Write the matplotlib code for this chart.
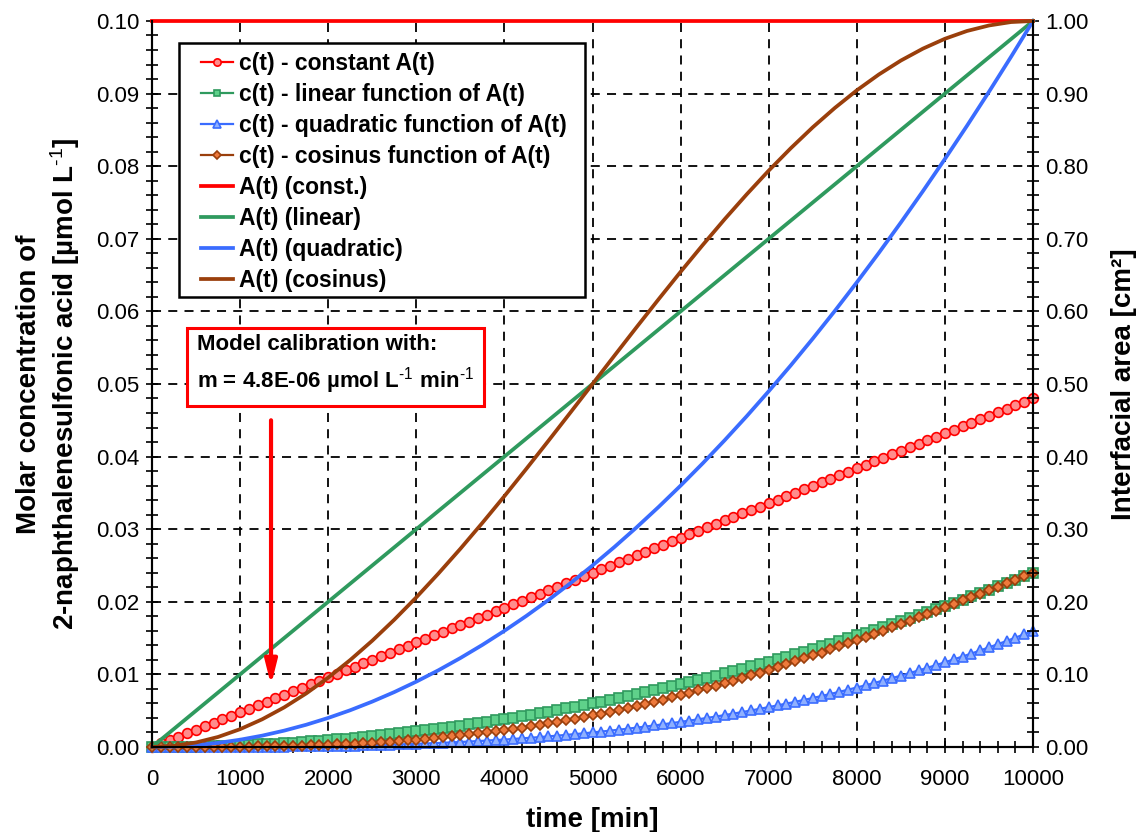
import matplotlib.pyplot as plt
from matplotlib.patches import Rectangle
from matplotlib.ticker import FormatStrFormatter, MultipleLocator

# time grid of the simulated concentrations (min)
time_c = [
    0, 100, 200, 300, 400, 500, 600, 700, 800, 900,
    1000, 1100, 1200, 1300, 1400, 1500, 1600, 1700, 1800, 1900,
    2000, 2100, 2200, 2300, 2400, 2500, 2600, 2700, 2800, 2900,
    3000, 3100, 3200, 3300, 3400, 3500, 3600, 3700, 3800, 3900,
    4000, 4100, 4200, 4300, 4400, 4500, 4600, 4700, 4800, 4900,
    5000, 5100, 5200, 5300, 5400, 5500, 5600, 5700, 5800, 5900,
    6000, 6100, 6200, 6300, 6400, 6500, 6600, 6700, 6800, 6900,
    7000, 7100, 7200, 7300, 7400, 7500, 7600, 7700, 7800, 7900,
    8000, 8100, 8200, 8300, 8400, 8500, 8600, 8700, 8800, 8900,
    9000, 9100, 9200, 9300, 9400, 9500, 9600, 9700, 9800, 9900,
    10000,
]

# c(t) in umol/L for the four interfacial-area models
c_const = [
    0.0, 0.00048, 0.00096, 0.00144, 0.00192, 0.0024, 0.00288, 0.00336, 0.00384, 0.00432,
    0.0048, 0.00528, 0.00576, 0.00624, 0.00672, 0.0072, 0.00768, 0.00816, 0.00864, 0.00912,
    0.0096, 0.01008, 0.01056, 0.01104, 0.01152, 0.012, 0.01248, 0.01296, 0.01344, 0.01392,
    0.0144, 0.01488, 0.01536, 0.01584, 0.01632, 0.0168, 0.01728, 0.01776, 0.01824, 0.01872,
    0.0192, 0.01968, 0.02016, 0.02064, 0.02112, 0.0216, 0.02208, 0.02256, 0.02304, 0.02352,
    0.024, 0.02448, 0.02496, 0.02544, 0.02592, 0.0264, 0.02688, 0.02736, 0.02784, 0.02832,
    0.0288, 0.02928, 0.02976, 0.03024, 0.03072, 0.0312, 0.03168, 0.03216, 0.03264, 0.03312,
    0.0336, 0.03408, 0.03456, 0.03504, 0.03552, 0.036, 0.03648, 0.03696, 0.03744, 0.03792,
    0.0384, 0.03888, 0.03936, 0.03984, 0.04032, 0.0408, 0.04128, 0.04176, 0.04224, 0.04272,
    0.0432, 0.04368, 0.04416, 0.04464, 0.04512, 0.0456, 0.04608, 0.04656, 0.04704, 0.04752,
    0.048,
]
c_linear = [
    0.0, 0.0, 0.00001, 0.00002, 0.00004, 0.00006, 0.00009, 0.00012, 0.00015, 0.00019,
    0.00024, 0.00029, 0.00035, 0.00041, 0.00047, 0.00054, 0.00061, 0.00069, 0.00078, 0.00087,
    0.00096, 0.00106, 0.00116, 0.00127, 0.00138, 0.0015, 0.00162, 0.00175, 0.00188, 0.00202,
    0.00216, 0.00231, 0.00246, 0.00261, 0.00277, 0.00294, 0.00311, 0.00329, 0.00347, 0.00365,
    0.00384, 0.00403, 0.00423, 0.00444, 0.00465, 0.00486, 0.00508, 0.0053, 0.00553, 0.00576,
    0.006, 0.00624, 0.00649, 0.00674, 0.007, 0.00726, 0.00753, 0.0078, 0.00807, 0.00835,
    0.00864, 0.00893, 0.00923, 0.00953, 0.00983, 0.01014, 0.01045, 0.01077, 0.0111, 0.01143,
    0.01176, 0.0121, 0.01244, 0.01279, 0.01314, 0.0135, 0.01386, 0.01423, 0.0146, 0.01498,
    0.01536, 0.01575, 0.01614, 0.01653, 0.01693, 0.01734, 0.01775, 0.01817, 0.01859, 0.01901,
    0.01944, 0.01987, 0.02031, 0.02076, 0.02121, 0.02166, 0.02212, 0.02258, 0.02305, 0.02352,
    0.024,
]
c_quadratic = [
    0.0, 0.0, 0.0, 0.0, 0.0, 0.0, 0.0, 0.00001, 0.00001, 0.00001,
    0.00002, 0.00002, 0.00003, 0.00004, 0.00004, 0.00005, 0.00007, 0.00008, 0.00009, 0.00011,
    0.00013, 0.00015, 0.00017, 0.00019, 0.00022, 0.00025, 0.00028, 0.00031, 0.00035, 0.00039,
    0.00043, 0.00048, 0.00052, 0.00057, 0.00063, 0.00069, 0.00075, 0.00081, 0.00088, 0.00095,
    0.00102, 0.0011, 0.00119, 0.00127, 0.00136, 0.00146, 0.00156, 0.00166, 0.00177, 0.00188,
    0.002, 0.00212, 0.00225, 0.00238, 0.00252, 0.00266, 0.00281, 0.00296, 0.00312, 0.00329,
    0.00346, 0.00363, 0.00381, 0.004, 0.00419, 0.00439, 0.0046, 0.00481, 0.00503, 0.00526,
    0.00549, 0.00573, 0.00597, 0.00622, 0.00648, 0.00675, 0.00702, 0.0073, 0.00759, 0.00789,
    0.00819, 0.0085, 0.00882, 0.00915, 0.00948, 0.00983, 0.01018, 0.01054, 0.0109, 0.01128,
    0.01166, 0.01206, 0.01246, 0.01287, 0.01329, 0.01372, 0.01416, 0.0146, 0.01506, 0.01552,
    0.016,
]
c_cosine = [
    0.0, 0.0, 0.0, 0.0, 0.0, 0.0, 0.00001, 0.00001, 0.00002, 0.00003,
    0.00004, 0.00005, 0.00007, 0.00009, 0.00011, 0.00013, 0.00016, 0.00019, 0.00023, 0.00027,
    0.00031, 0.00036, 0.00041, 0.00047, 0.00053, 0.0006, 0.00067, 0.00075, 0.00083, 0.00092,
    0.00102, 0.00112, 0.00123, 0.00134, 0.00147, 0.00159, 0.00173, 0.00187, 0.00202, 0.00217,
    0.00233, 0.0025, 0.00268, 0.00286, 0.00306, 0.00325, 0.00346, 0.00367, 0.0039, 0.00412,
    0.00436, 0.0046, 0.00486, 0.00511, 0.00538, 0.00565, 0.00594, 0.00622, 0.00652, 0.00682,
    0.00713, 0.00745, 0.00778, 0.00811, 0.00845, 0.00879, 0.00915, 0.0095, 0.00987, 0.01024,
    0.01062, 0.011, 0.01139, 0.01179, 0.01219, 0.0126, 0.01301, 0.01343, 0.01385, 0.01428,
    0.01471, 0.01515, 0.01559, 0.01603, 0.01648, 0.01693, 0.01739, 0.01785, 0.01831, 0.01877,
    0.01924, 0.01971, 0.02018, 0.02065, 0.02113, 0.0216, 0.02208, 0.02256, 0.02304, 0.02352,
    0.024,
]

# interfacial area A(t) in cm^2
time_a = [
    0, 250, 500, 750, 1000, 1250, 1500, 1750, 2000, 2250,
    2500, 2750, 3000, 3250, 3500, 3750, 4000, 4250, 4500, 4750,
    5000, 5250, 5500, 5750, 6000, 6250, 6500, 6750, 7000, 7250,
    7500, 7750, 8000, 8250, 8500, 8750, 9000, 9250, 9500, 9750,
    10000,
]
time_ends = [0, 10000]
a_const = [1.0, 1.0]
a_linear = [0.0, 1.0]
a_quadratic = [
    0.0, 0.0006, 0.0025, 0.0056, 0.01, 0.0156, 0.0225, 0.0306, 0.04, 0.0506,
    0.0625, 0.0756, 0.09, 0.1056, 0.1225, 0.1406, 0.16, 0.1806, 0.2025, 0.2256,
    0.25, 0.2756, 0.3025, 0.3306, 0.36, 0.3906, 0.4225, 0.4556, 0.49, 0.5256,
    0.5625, 0.6006, 0.64, 0.6806, 0.7225, 0.7656, 0.81, 0.8556, 0.9025, 0.9506,
    1.0,
]
a_cosine = [
    0.0, 0.0015, 0.0062, 0.0138, 0.0245, 0.0381, 0.0545, 0.0737, 0.0955, 0.1198,
    0.1464, 0.1753, 0.2061, 0.2388, 0.273, 0.3087, 0.3455, 0.3833, 0.4218, 0.4608,
    0.5, 0.5392, 0.5782, 0.6167, 0.6545, 0.6913, 0.727, 0.7612, 0.7939, 0.8247,
    0.8536, 0.8802, 0.9045, 0.9263, 0.9455, 0.9619, 0.9755, 0.9862, 0.9938, 0.9985,
    1.0,
]

RED = "#ff0000"
GREEN = "#2f9a5e"
BLUE = "#3a6cff"
BROWN = "#9a3f0c"

plt.rcParams.update(
    {
        "font.family": ["Liberation Sans", "DejaVu Sans"],
        "mathtext.fontset": "custom",
        "mathtext.rm": "Liberation Sans",
        "mathtext.bf": "Liberation Sans:bold",
        "mathtext.default": "bf",
        "axes.linewidth": 1.5,
    }
)

fig = plt.figure(figsize=(11.42, 8.32), dpi=100)
ax = fig.add_axes([0.1331, 0.1022, 0.7715, 0.8726])
ax2 = ax.twinx()

# concentration curves (left axis)
conc_styles = [
    (c_const, RED, "o", 7, "#ff8c8c", "c(t) - constant A(t)"),
    (c_linear, GREEN, "s", 6.5, "#5fd18a", "c(t) - linear function of A(t)"),
    (c_quadratic, BLUE, "^", 7, "#8fb0ff", "c(t) - quadratic function of A(t)"),
    (c_cosine, BROWN, "D", 5.5, "#ee7a3c", "c(t) - cosinus function of A(t)"),
]
handles = []
for values, color, marker, size, face, label in conc_styles:
    (h,) = ax.plot(
        time_c,
        values,
        color=color,
        linewidth=1.6,
        marker=marker,
        markersize=size,
        markerfacecolor=face,
        markeredgecolor=color,
        markeredgewidth=1.2,
        label=label,
        clip_on=False,
    )
    handles.append(h)

# interfacial area curves (right axis)
area_styles = [
    (time_ends, a_const, RED, "A(t) (const.)"),
    (time_ends, a_linear, GREEN, "A(t) (linear)"),
    (time_a, a_quadratic, BLUE, "A(t) (quadratic)"),
    (time_a, a_cosine, BROWN, "A(t) (cosinus)"),
]
for t, values, color, label in area_styles:
    (h,) = ax2.plot(t, values, color=color, linewidth=2.7, label=label, clip_on=False)
    handles.append(h)

ax.set_xlim(0, 10000)
ax.set_ylim(0, 0.1)
ax2.set_ylim(0, 1.0)

ax.xaxis.set_major_locator(MultipleLocator(1000))
ax.xaxis.set_minor_locator(MultipleLocator(200))
ax.yaxis.set_major_locator(MultipleLocator(0.01))
ax.yaxis.set_minor_locator(MultipleLocator(0.002))
ax.yaxis.set_major_formatter(FormatStrFormatter("%.2f"))
ax2.yaxis.set_major_locator(MultipleLocator(0.1))
ax2.yaxis.set_minor_locator(MultipleLocator(0.02))
ax2.yaxis.set_major_formatter(FormatStrFormatter("%.2f"))

for a in (ax, ax2):
    a.tick_params(which="both", direction="inout", length=8, width=1.2, labelsize=16, pad=5)
    a.spines["top"].set_visible(False)
ax.tick_params(axis="x", which="both", pad=12)

ax.grid(True, which="major", color="black", linestyle=(0, (5, 4)), linewidth=1.3)

ax.set_xlabel("time [min]", fontsize=20, fontweight="bold", labelpad=12)
ax.set_ylabel(
    "Molar concentration of\n2-naphthalenesulfonic acid [µmol L$^{\\text{-1}}$]",
    fontsize=20,
    fontweight="bold",
    linespacing=1.25,
)
ax.yaxis.set_label_coords(-0.0795, 0.5)
ax2.set_ylabel("Interfacial area [cm²]", fontsize=20, fontweight="bold")
ax2.yaxis.set_label_coords(1.089, 0.5)

# legend: entries placed on their own, framed by a separate box
frame = Rectangle(
    (0.0306, 0.6198),
    0.4609,
    0.3499,
    transform=ax2.transAxes,
    facecolor="white",
    edgecolor="black",
    linewidth=1.8,
    zorder=8,
)
ax2.add_patch(frame)
leg = ax2.legend(
    handles=handles,
    loc="upper left",
    bbox_to_anchor=(0.0556, 0.957),
    borderaxespad=0,
    borderpad=0,
    frameon=False,
    prop={"weight": "bold", "size": 16.5},
    handlelength=1.4,
    handletextpad=0.28,
    labelspacing=0.35,
    markerscale=0.75,
)
leg.set_zorder(9)

# calibration note with arrow
ax2.text(
    511,
    0.526,
    "Model calibration with:\nm = 4.8E-06 µmol L$^{\\text{-1}}$ min$^{\\text{-1}}$",
    ha="left",
    va="center",
    fontsize=16,
    fontweight="bold",
    linespacing=1.45,
    zorder=6,
    bbox={"boxstyle": "square,pad=0.45", "facecolor": "white", "edgecolor": RED, "linewidth": 2.2},
)
ax2.annotate(
    "",
    xy=(1351, 0.085),
    xytext=(1351, 0.45),
    arrowprops={
        "arrowstyle": "-|>,head_length=0.72,head_width=0.18",
        "color": RED,
        "linewidth": 3,
        "shrinkA": 0,
        "shrinkB": 0,
        "mutation_scale": 20,
    },
    zorder=6,
)

fig.savefig("out.png", dpi=100)
